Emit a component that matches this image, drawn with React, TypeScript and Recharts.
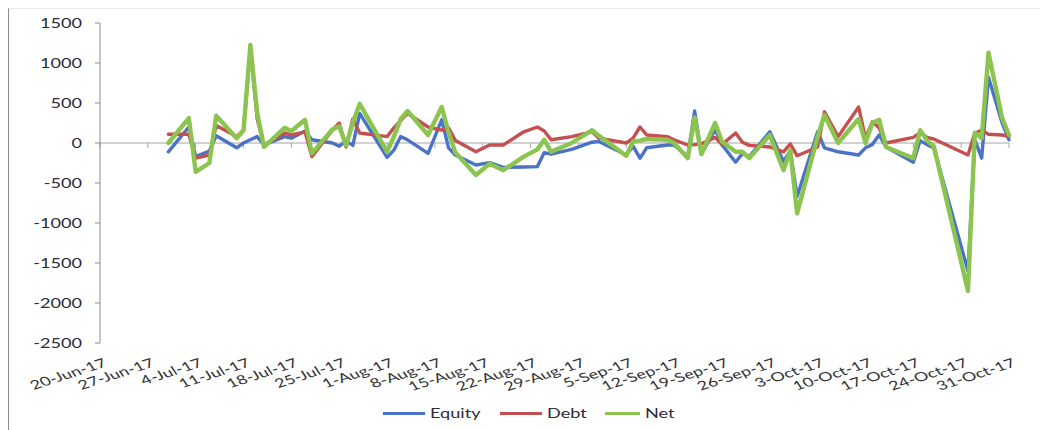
import React from 'react';
import { LineChart, Line, XAxis, YAxis, ReferenceLine } from 'recharts';

const dates = [
  '2017-06-30', '2017-07-03', '2017-07-04', '2017-07-06', '2017-07-07', '2017-07-10', '2017-07-11', '2017-07-12',
  '2017-07-13', '2017-07-14', '2017-07-17', '2017-07-18', '2017-07-20', '2017-07-21', '2017-07-24', '2017-07-25',
  '2017-07-26', '2017-07-27', '2017-07-28',
  '2017-08-01', '2017-08-02', '2017-08-03', '2017-08-04', '2017-08-07', '2017-08-09', '2017-08-10', '2017-08-11',
  '2017-08-14', '2017-08-16', '2017-08-18', '2017-08-21', '2017-08-23', '2017-08-24', '2017-08-25', '2017-08-28',
  '2017-08-31',
  '2017-09-01', '2017-09-05', '2017-09-06', '2017-09-07', '2017-09-08', '2017-09-11', '2017-09-12', '2017-09-14',
  '2017-09-15', '2017-09-16', '2017-09-18', '2017-09-19', '2017-09-21', '2017-09-22', '2017-09-23', '2017-09-26',
  '2017-09-28', '2017-09-29', '2017-09-30',
  '2017-10-03', '2017-10-04', '2017-10-06', '2017-10-09', '2017-10-10', '2017-10-11', '2017-10-12', '2017-10-13',
  '2017-10-17', '2017-10-18', '2017-10-19', '2017-10-20', '2017-10-25', '2017-10-26', '2017-10-27', '2017-10-28',
  '2017-10-30', '2017-10-31',
];

const equity = [
  -110, 200, -170, -100, 90, -60, 0, 40, 80, -25, 80, 60, 150, 40, 0, -40, 20, -30, 370,
  -180, -90, 80, 40, -130, 290, -60, -150, -275, -245, -305, -300, -295, -120, -140, -80, 10,
  20, -150, -40, -190, -60, -25, -25, -170, 400, -140, 170, -20, -240, -130, -170, 140, -230, -100, -670,
  140, -60, -110, -150, -60, -20, 100, -50, -240, 30, -20, -60, -1600, 40, -190, 820, 250, 40,
];

const debt = [
  110, 110, -190, -150, 220, 80, 160, 1180, 300, -25, 125, 100, 140, -170, 160, 250, -50, 300, 125,
  80, 190, 280, 370, 200, 160, 190, 30, -110, -25, -25, 140, 200, 150, 40, 80, 140,
  60, 0, 60, 200, 100, 80, 40, -25, -20, -10, 70, -20, 125, 10, -30, -50, -110, -10, -160,
  -50, 390, 80, 450, 60, 265, 190, 0, 70, 130, 70, 50, -150, 125, 160, 110, 100, 80,
];

const net = [
  0, 312, -360, -250, 340, 60, 160, 1225, 375, -50, 190, 150, 290, -130, 170, 210, -30, 250, 490,
  -110, 80, 300, 400, 100, 450, 130, -120, -400, -260, -340, -170, -80, 40, -110, 0, 160,
  90, -160, 20, 30, 50, 40, 0, -190, 320, -140, 250, 20, -110, -110, -190, 100, -340, -90, -880,
  80, 350, 0, 300, 0, 250, 290, -50, -190, 160, 30, -40, -1850, 130, 60, 1130, 310, 100,
];

const tickDates = [
  '2017-06-20', '2017-06-27', '2017-07-04', '2017-07-11', '2017-07-18', '2017-07-25', '2017-08-01',
  '2017-08-08', '2017-08-15', '2017-08-22', '2017-08-29', '2017-09-05', '2017-09-12', '2017-09-19',
  '2017-09-26', '2017-10-03', '2017-10-10', '2017-10-17', '2017-10-24', '2017-10-31',
];
const tickLabels = [
  '20-Jun-17', '27-Jun-17', '4-Jul-17', '11-Jul-17', '18-Jul-17', '25-Jul-17', '1-Aug-17',
  '8-Aug-17', '15-Aug-17', '22-Aug-17', '29-Aug-17', '5-Sep-17', '12-Sep-17', '19-Sep-17',
  '26-Sep-17', '3-Oct-17', '10-Oct-17', '17-Oct-17', '24-Oct-17', '31-Oct-17',
];
const yTicks = [-2500, -2000, -1500, -1000, -500, 0, 500, 1000, 1500];

const seriesNames = ['Equity', 'Debt', 'Net'];
const colors = ['#4A72C6', '#C4504F', '#8CC450'];
const widths = [3.4, 3.4, 4.4];

const BASE = Date.UTC(2017, 5, 20);
const dayNum = (s: string) => {
  const [y, m, d] = s.split('-').map(Number);
  return Math.round((Date.UTC(y, m - 1, d) - BASE) / 86400000);
};

const data = dates.map((d, i) => ({ day: dayNum(d), Equity: equity[i], Debt: debt[i], Net: net[i] }));
const xTicks = tickDates.map(dayNum);

const FONT = 'Lato, "Liberation Sans", sans-serif';
const SX = 1.45;

const XTick = (props: any) => {
  const { x, y, payload } = props;
  const idx = xTicks.indexOf(payload.value);
  const label = idx >= 0 ? tickLabels[idx] : '';
  return (
    <g transform={`translate(${x + 8},${y + 23}) scale(${SX},1) rotate(-25)`}>
      <text x={0} y={0} textAnchor="end" fontSize={12.5} fontFamily={FONT} fill="#333">
        {label}
      </text>
    </g>
  );
};

const YTick = (props: any) => {
  const { x, y, payload } = props;
  return (
    <g transform={`translate(${x},${y}) scale(${SX},1)`}>
      <text x={0} y={0} dy="0.36em" textAnchor="end" fontSize={12.5} fontFamily={FONT} fill="#2b2b3a">
        {payload.value}
      </text>
    </g>
  );
};

const legendWidths = [117, 105, 60];

export default function App() {
  return (
    <div
      style={{
        position: 'relative',
        width: 1038,
        height: 421,
        borderLeft: '1px solid #8a8a8a',
        borderTop: '1px solid #e8e8e8',
      }}
    >
      <LineChart width={1038} height={421} data={data} margin={{ top: 14, right: 38, left: 0, bottom: 0 }}>
        <XAxis
          dataKey="day"
          type="number"
          domain={[0, 133]}
          ticks={xTicks}
          interval={0}
          axisLine={false}
          tickLine={false}
          tickSize={0}
          tickMargin={0}
          height={87}
          tick={<XTick />}
        />
        <YAxis
          type="number"
          domain={[-2500, 1500]}
          ticks={yTicks}
          interval={0}
          width={91}
          axisLine={{ stroke: '#8c8c8c' }}
          tickLine={{ stroke: '#8c8c8c' }}
          tickSize={5}
          tickMargin={13}
          tick={<YTick />}
        />
        <ReferenceLine y={0} stroke="#a6a6a6" strokeWidth={1.2} />
        {xTicks.map((t) => (
          <ReferenceLine
            key={t}
            segment={[
              { x: t, y: 0 },
              { x: t, y: -62 },
            ]}
            stroke="#a6a6a6"
            strokeWidth={1}
          />
        ))}
        {seriesNames.map((name, i) => (
          <Line
            key={name}
            dataKey={name}
            type="linear"
            stroke={colors[i]}
            strokeWidth={widths[i]}
            strokeLinejoin="round"
            strokeLinecap="round"
            dot={false}
            activeDot={false}
            isAnimationActive={false}
          />
        ))}
      </LineChart>
      <div
        style={{
          position: 'absolute',
          top: 396,
          left: 374,
          height: 16,
          display: 'flex',
          alignItems: 'center',
          fontFamily: FONT,
          fontSize: 12.5,
          color: '#2b2b3a',
        }}
      >
        {seriesNames.map((name, i) => (
          <div key={name} style={{ width: legendWidths[i], display: 'flex', alignItems: 'center' }}>
            <div style={{ width: 42, height: 3, background: colors[i], marginRight: 5 }} />
            <span style={{ display: 'inline-block', transform: `scaleX(${SX})`, transformOrigin: 'left center', whiteSpace: 'nowrap' }}>
              {name}
            </span>
          </div>
        ))}
      </div>
    </div>
  );
}
